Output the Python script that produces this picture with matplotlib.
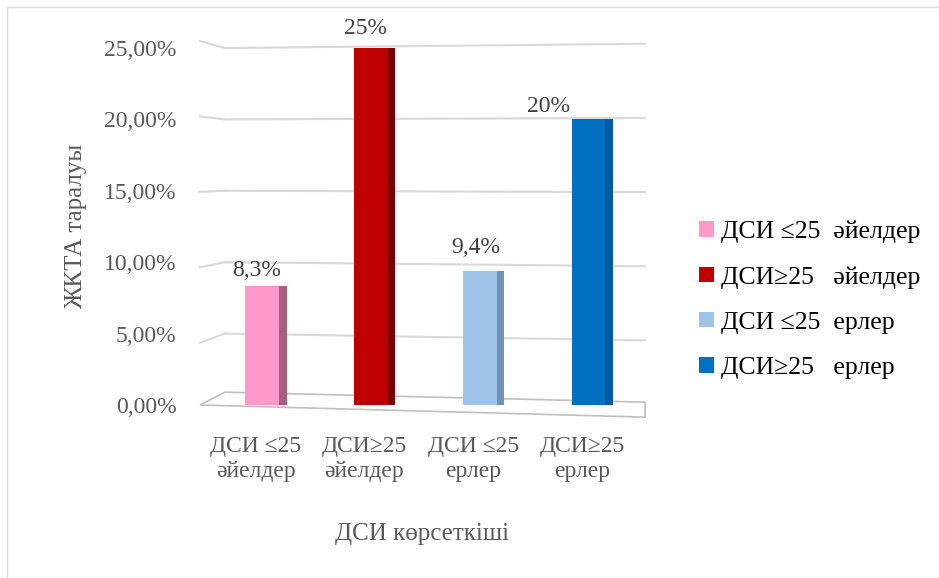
import matplotlib.pyplot as plt
import matplotlib.patches as mpatches
import numpy as np

plt.rcParams['font.family'] = ['Liberation Serif', 'DejaVu Serif']

categories = ["ДСИ ≤25\nәйелдер", "ДСИ≥25\nәйелдер", "ДСИ ≤25\nерлер", "ДСИ≥25\nерлер"]
legend_names = ["ДСИ ≤25  әйелдер", "ДСИ≥25   әйелдер", "ДСИ ≤25  ерлер", "ДСИ≥25   ерлер"]
values = [8.3, 25.0, 9.4, 20.0]
value_labels = ["8,3%", "25%", "9,4%", "20%"]
colors = ["#ff99cc", "#c00000", "#9dc3e6", "#0070c0"]
side_colors = ["#a6607f", "#7a0000", "#6f93b8", "#005a9e"]
yticks = [0, 5, 10, 15, 20, 25]

grey = "#595959"

fig = plt.figure(figsize=(9.39, 5.78), dpi=100)
ax = fig.add_axes([0.213, 0.2993, 0.474, 0.6176])

# chart border
fig.patches.append(mpatches.Rectangle((7 / 939, -0.1), 1.1, 1 - 7 / 578 + 0.1,
                                      transform=fig.transFigure, fill=False,
                                      edgecolor="#d9d9d9", linewidth=1))

x = np.arange(len(values))
w = 0.31
side = 0.07
label_dx = [-0.05, -0.05, -0.04, -0.37]
label_dy = [0.4, 0.6, 0.9, 0.2]
for i in range(len(values)):
    ax.bar(x[i] + w / 2 + side / 2, values[i], width=side, color=side_colors[i], zorder=3)
    ax.bar(x[i], values[i], width=w, color=colors[i], label=legend_names[i], zorder=4)
    ax.text(x[i] + label_dx[i], values[i] + label_dy[i], value_labels[i], ha="center",
            va="bottom", fontsize=17, color="#404040")

# gridlines with a little perspective bend
x0, x1 = ax.set_xlim(-0.57, 3.52)
xb = x0 + 0.056 * (x1 - x0)
px = 25 / 357
for t in yticks[1:]:
    ax.plot([xb, x1], [t, t + (-9.5 + 0.55 * t) * px], color="#d9d9d9",
            linewidth=1.5, zorder=1, clip_on=False)
    ax.plot([x0, xb], [t + (-13 + 0.8 * t) * px, t], color="#d9d9d9",
            linewidth=1.5, zorder=1, clip_on=False)

# floor of the pseudo-3D plot
floor = mpatches.Polygon([[0.0, 0.0], [0.056, 0.036], [1.0, 0.008], [1.0, -0.034]],
                         closed=True, transform=ax.transAxes, fill=False,
                         edgecolor="#bfbfbf", linewidth=1.2, clip_on=False, zorder=2)
ax.add_patch(floor)

ax.set_ylim(0, 25)
ax.set_yticks(yticks)
ax.set_yticklabels([f"{t:.2f}".replace(".", ",") + "%" for t in yticks],
                   fontsize=17, color=grey)
ax.set_xticks(x - 0.06)
ax.set_xticklabels(categories, fontsize=17, color=grey, linespacing=1.25)
ax.tick_params(axis="y", length=0, pad=17)
ax.tick_params(axis="x", length=0, pad=22)
for s in ax.spines.values():
    s.set_visible(False)

ax.set_ylabel("ЖКТА таралуы", fontsize=18, color=grey, labelpad=12)
ax.set_xlabel("ДСИ көрсеткіші", fontsize=18, color=grey, labelpad=30)

ax.legend(loc="center left", bbox_to_anchor=(1.07, 0.295), frameon=False,
          fontsize=18.5, handlelength=0.55, handleheight=0.55, handletextpad=0.3,
          labelspacing=0.9)

fig.savefig("out.png", dpi=100)
